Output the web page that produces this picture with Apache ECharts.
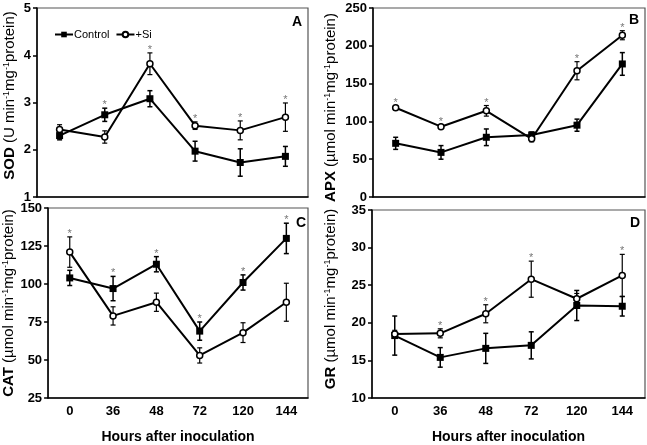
<!DOCTYPE html>
<html>
<head>
<meta charset="utf-8">
<script src="https://cdn.jsdelivr.net/npm/echarts@6/dist/echarts.min.js"></script>
<style>
  html, body { margin: 0; padding: 0; background: #fff; }
  #main { width: 647px; height: 445px; }
</style>
</head>
<body>
<div id="main"></div>
<script>
// 横轴：接种后小时数
var hours = ['0', '36', '48', '72', '120', '144'];

// A  SOD
var sodCtrl = [2.30, 2.74, 3.08, 1.97, 1.73, 1.86];
var sodCtrlErr = [0.09, 0.14, 0.17, 0.21, 0.29, 0.21];
var sodSi = [2.43, 2.27, 3.82, 2.51, 2.41, 2.69];
var sodSiErr = [0.10, 0.13, 0.23, 0.08, 0.20, 0.30];
var sodStar = [0, 1, 1, 1, 1, 1];

// B  APX
var apxCtrl = [71, 59, 79, 82, 95, 176];
var apxCtrlErr = [8, 9, 11, 4, 8, 15];
var apxSi = [118, 93, 114, 77, 167, 214];
var apxSiErr = [3, 2, 7, 4, 12, 6];
var apxStar = [1, 1, 1, 0, 1, 1];

// C  CAT
var catCtrl = [104, 97, 113, 69, 101, 130];
var catCtrlErr = [5, 8, 5, 6, 5, 10];
var catSi = [121, 79, 88, 53, 68, 88];
var catSiErr = [10, 6, 6, 5, 6.5, 12.5];
var catStar = [1, 1, 1, 1, 1, 1];

// D  GR
var grCtrl = [18.3, 15.4, 16.6, 17.0, 22.3, 22.2];
var grCtrlErr = [2.6, 1.3, 2.0, 1.8, 2.0, 1.3];
var grSi = [18.5, 18.6, 21.2, 25.8, 23.2, 26.3];
var grSiErr = [0.5, 0.6, 1.2, 2.4, 0.7, 2.8];
var grStar = [0, 1, 1, 1, 0, 1];

// 纵轴刻度
var yMin = [1, 0, 25, 10];
var yMax = [5, 250, 150, 35];
var yStep = [1, 50, 25, 5];
var yNames = [
    '{b|SOD} (U min{s|-1}mg{s|-1}protein)',
    '{b|APX} (µmol min{s|-1}mg{s|-1}protein)',
    '{b|CAT} (µmol min{s|-1}mg{s|-1}protein)',
    '{b|GR} (µmol min{s|-1}mg{s|-1}protein)'
];
var panelLetters = ['A', 'B', 'C', 'D'];

var FONT = '"Liberation Sans", Arial, sans-serif';

var panels = [
    {ctrl: sodCtrl, ce: sodCtrlErr, si: sodSi, se: sodSiErr, star: sodStar},
    {ctrl: apxCtrl, ce: apxCtrlErr, si: apxSi, se: apxSiErr, star: apxStar},
    {ctrl: catCtrl, ce: catCtrlErr, si: catSi, se: catSiErr, star: catStar},
    {ctrl: grCtrl, ce: grCtrlErr, si: grSi, se: grSiErr, star: grStar}
];

var grids = [
    {left: 37, top: 8, width: 271, height: 189},
    {left: 373, top: 8, width: 272, height: 189},
    {left: 36, top: 208, width: 272, height: 196},
    {left: 372, top: 210, width: 273, height: 194}
];
var yNameGap = [19, 34, 18, 33];
// 标题沿轴方向微调
var yNamePad = [[0, 0, 0, 14], [0, 10, 0, 0], [0, 0, 0, 0], [0, 0, 0, 10]];
var letterPos = [[292, 15], [629, 13], [296, 216], [630, 216]];

// 误差线
function errSeries(g, vals, errs, lw) {
    return {
        type: 'custom',
        xAxisIndex: g,
        yAxisIndex: g,
        z: 3,
        silent: true,
        data: vals.map(function (v, i) { return [i, v, errs[i]]; }),
        encode: {x: 0, y: 1},
        renderItem: function (params, api) {
            var x = api.value(0), v = api.value(1), e = api.value(2);
            var hi = api.coord([x, v + e]);
            var lo = api.coord([x, v - e]);
            var w = 2.5;
            var st = {stroke: '#000', lineWidth: lw};
            return {
                type: 'group',
                children: [
                    {type: 'line', shape: {x1: hi[0], y1: hi[1], x2: lo[0], y2: lo[1]}, style: st},
                    {type: 'line', shape: {x1: hi[0] - w, y1: hi[1], x2: hi[0] + w, y2: hi[1]}, style: st},
                    {type: 'line', shape: {x1: lo[0] - w, y1: lo[1], x2: lo[0] + w, y2: lo[1]}, style: st}
                ]
            };
        }
    };
}

// 显著性星号
function starSeries(g, p) {
    var data = [];
    for (var i = 0; i < p.star.length; i++) {
        if (p.star[i]) {
            data.push([i, Math.max(p.ctrl[i] + p.ce[i], p.si[i] + p.se[i])]);
        }
    }
    return {
        type: 'custom',
        xAxisIndex: g,
        yAxisIndex: g,
        z: 6,
        silent: true,
        data: data,
        encode: {x: 0, y: 1},
        renderItem: function (params, api) {
            var pt = api.coord([api.value(0), api.value(1)]);
            return {
                type: 'text',
                x: pt[0],
                y: pt[1] - 3,
                style: {text: '*', fill: '#777', font: '11px ' + FONT, align: 'center', verticalAlign: 'middle'}
            };
        }
    };
}

var xAxes = [], yAxes = [], series = [], titles = [];
for (var g = 0; g < 4; g++) {
    var bottomRow = g >= 2;
    xAxes.push({
        type: 'category',
        gridIndex: g,
        data: hours,
        boundaryGap: true,
        axisLine: {lineStyle: {color: '#000', width: 1.5}},
        axisTick: {alignWithLabel: true, interval: 0, length: 4, lineStyle: {color: '#000', width: 1.5}},
        axisLabel: {show: bottomRow, interval: 0, color: '#000', fontWeight: 'bold', fontSize: 13, fontFamily: FONT, margin: 7},
        splitLine: {show: false},
        name: bottomRow ? 'Hours after inoculation' : '',
        nameLocation: 'middle',
        nameGap: 32,
        nameTextStyle: {color: '#000', fontWeight: 'bold', fontSize: 14, fontFamily: FONT}
    });
    yAxes.push({
        type: 'value',
        gridIndex: g,
        min: yMin[g],
        max: yMax[g],
        interval: yStep[g],
        axisLine: {show: true, lineStyle: {color: '#000', width: 1.5}},
        axisTick: {show: true, length: 4, lineStyle: {color: '#000', width: 1.5}},
        axisLabel: {color: '#000', fontWeight: 'bold', fontSize: 13, fontFamily: FONT, margin: 6},
        splitLine: {show: false},
        name: yNames[g],
        nameLocation: 'middle',
        nameGap: yNameGap[g],
        nameTextStyle: {
            color: '#000', fontWeight: 'normal', fontSize: 15, fontFamily: FONT,
            padding: yNamePad[g],
            rich: {
                b: {fontSize: 15, fontWeight: 'bold', fontFamily: FONT, color: '#000'},
                s: {fontSize: 9, fontWeight: 'normal', fontFamily: FONT, color: '#000', verticalAlign: 'top', lineHeight: 16}
            }
        }
    });
    var p = panels[g];
    series.push(errSeries(g, p.ctrl, p.ce, 1.5));
    series.push(errSeries(g, p.si, p.se, 1.2));
    series.push({
        name: 'Control',
        type: 'line',
        xAxisIndex: g,
        yAxisIndex: g,
        data: p.ctrl,
        symbol: 'rect',
        symbolSize: 7,
        z: 4,
        lineStyle: {color: '#000', width: 2},
        itemStyle: {color: '#000'}
    });
    series.push({
        name: '+Si',
        type: 'line',
        xAxisIndex: g,
        yAxisIndex: g,
        data: p.si,
        symbol: 'circle',
        symbolSize: 6,
        z: 5,
        lineStyle: {color: '#000', width: 2},
        itemStyle: {color: '#fff', borderColor: '#000', borderWidth: 1.5}
    });
    series.push(starSeries(g, p));
    titles.push({
        text: panelLetters[g],
        left: letterPos[g][0],
        top: letterPos[g][1],
        padding: 0,
        textStyle: {fontSize: 14, fontWeight: 'bold', color: '#000', fontFamily: FONT}
    });
}

var option = {
    animation: false,
    backgroundColor: '#fff',
    title: titles,
    legend: {
        data: ['Control', '+Si'],
        left: 54,
        top: 29,
        itemWidth: 18,
        itemHeight: 7,
        itemGap: 6,
        padding: 0,
        textStyle: {fontSize: 11, color: '#000', fontFamily: FONT, padding: [0, 0, 0, -4]}
    },
    grid: grids.map(function (gr) {
        return {left: gr.left, top: gr.top, width: gr.width, height: gr.height, show: true, borderColor: '#555', borderWidth: 1.2, containLabel: false};
    }),
    xAxis: xAxes,
    yAxis: yAxes,
    series: series
};

var myChart = echarts.init(document.getElementById('main'));
myChart.setOption(option, true);
</script>
</body>
</html>
